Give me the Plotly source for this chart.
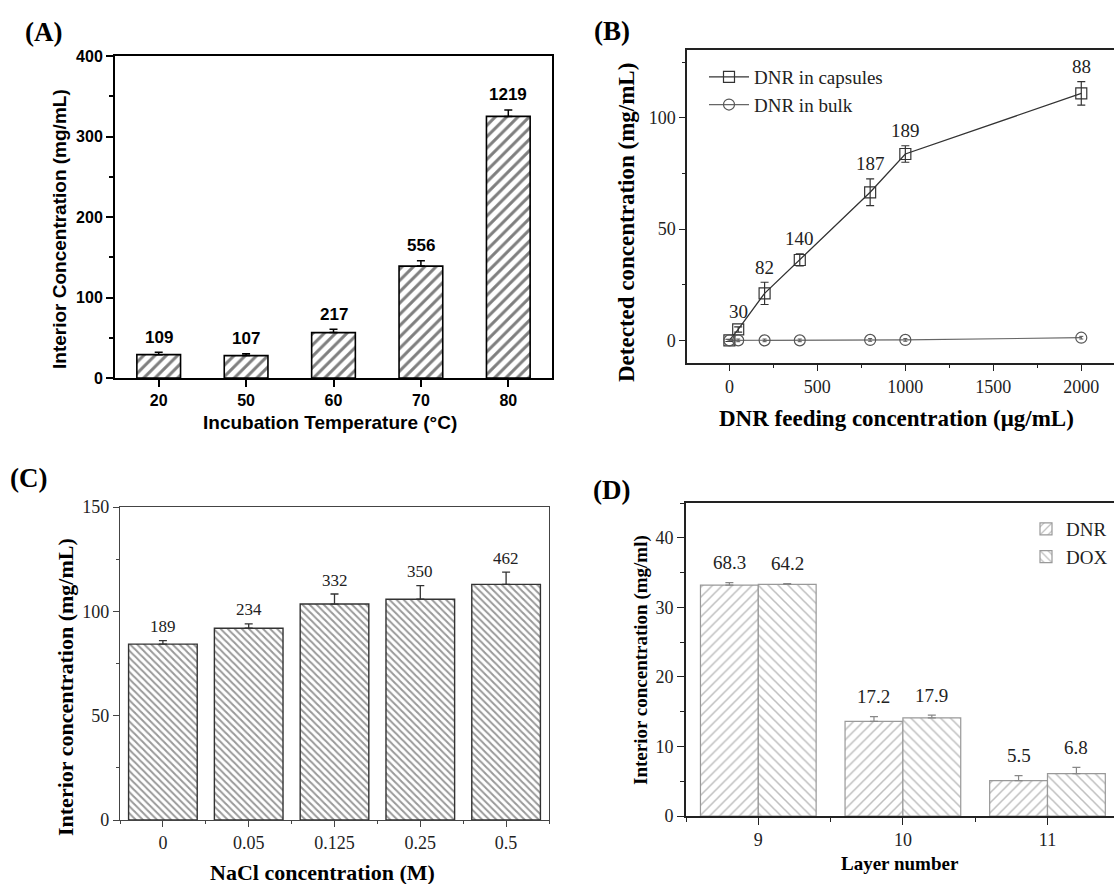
import plotly.graph_objects as go

# ---------------- data ----------------
# (A) incubation temperature
A_temps = ["20", "50", "60", "70", "80"]
A_vals = [29.0, 27.8, 56.4, 139.0, 325.0]
A_err = [3.0, 2.2, 4.2, 6.6, 8.0]
A_labels = ["109", "107", "217", "556", "1219"]

# (B) DNR feeding concentration
B_feed = [0, 50, 200, 400, 800, 1000, 2000]
B_caps = [0.0, 4.9, 21.1, 36.1, 66.5, 83.7, 110.9]
B_caps_err = [0.5, 1.2, 5.0, 2.7, 6.0, 3.7, 5.3]
B_bulk = [0.0, 0.0, 0.0, 0.0, 0.2, 0.2, 1.2]
B_bulk_err = [0.3, 0.6, 0.6, 0.6, 0.6, 0.6, 0.6]
B_labels = ["", "30", "82", "140", "187", "189", "88"]

# (C) NaCl concentration
C_nacl = ["0", "0.05", "0.125", "0.25", "0.5"]
C_vals = [84.3, 91.9, 103.5, 105.8, 112.9]
C_err = [1.7, 2.1, 4.8, 6.5, 5.9]
C_labels = ["189", "234", "332", "350", "462"]

# (D) layer number
D_layers = ["9", "10", "11"]
D_dnr = [33.2, 13.6, 5.1]
D_dnr_err = [0.35, 0.7, 0.7]
D_dox = [33.3, 14.1, 6.1]
D_dox_err = [0.1, 0.4, 0.9]
D_dnr_labels = ["68.3", "17.2", "5.5"]
D_dox_labels = ["64.2", "17.9", "6.8"]

# ---------------- layout helpers ----------------
W, H = 1114, 884
def fx(p):
    return p / W
def fy(p):
    return 1 - p / H

SANS = "Liberation Sans"
SERIF = "Liberation Serif"

fig = go.Figure()

# ---------- (A) ----------
A_idx = list(range(len(A_temps)))
fig.add_trace(go.Bar(
    x=A_idx, y=A_vals, width=0.5, xaxis="x", yaxis="y", showlegend=False,
    marker=dict(color="white", line=dict(color="black", width=1.6),
                pattern=dict(shape="/", fgcolor="black", size=8, solidity=0.38, fillmode="overlay")),
    error_y=dict(type="data", array=A_err, arrayminus=[0] * len(A_err), symmetric=False,
                 color="black", thickness=1.5, width=4),
))

# ---------- (B) ----------
fig.add_trace(go.Scatter(
    x=B_feed, y=B_caps, mode="lines+markers", name="DNR in capsules", xaxis="x2", yaxis="y2",
    line=dict(color="#333333", width=1.3),
    marker=dict(symbol="square-open", size=11, color="#333333", line=dict(width=1.2)),
    error_y=dict(type="data", array=B_caps_err, color="#333333", thickness=1.2, width=4),
    legend="legend",
))
fig.add_trace(go.Scatter(
    x=B_feed, y=B_bulk, mode="lines+markers", name="DNR in bulk", xaxis="x2", yaxis="y2",
    line=dict(color="#666666", width=1.2),
    marker=dict(symbol="circle-open", size=11, color="#555555", line=dict(width=1.2)),
    error_y=dict(type="data", array=B_bulk_err, color="#555555", thickness=1, width=2),
    legend="legend",
))

# ---------- (C) ----------
C_idx = list(range(len(C_nacl)))
fig.add_trace(go.Bar(
    x=C_idx, y=C_vals, width=0.8, xaxis="x3", yaxis="y3", showlegend=False,
    marker=dict(color="white", line=dict(color="#333333", width=1.4),
                pattern=dict(shape="\\", fgcolor="#333333", size=5, solidity=0.4, fillmode="overlay")),
    error_y=dict(type="data", array=C_err, arrayminus=[0] * len(C_err), symmetric=False,
                 color="#333333", thickness=1.3, width=4),
))

# ---------- (D) ----------
D_idx = list(range(len(D_layers)))
fig.add_trace(go.Bar(
    x=D_idx, y=D_dnr, name="DNR", xaxis="x4", yaxis="y4", legend="legend2",
    marker=dict(color="white", line=dict(color="#999999", width=1.2),
                pattern=dict(shape="/", fgcolor="#808080", size=7, solidity=0.22, fillmode="overlay")),
    error_y=dict(type="data", array=D_dnr_err, arrayminus=[0] * 3, symmetric=False,
                 color="#888888", thickness=1.2, width=4),
))
fig.add_trace(go.Bar(
    x=D_idx, y=D_dox, name="DOX", xaxis="x4", yaxis="y4", legend="legend2",
    marker=dict(color="white", line=dict(color="#999999", width=1.2),
                pattern=dict(shape="\\", fgcolor="#808080", size=7, solidity=0.22, fillmode="overlay")),
    error_y=dict(type="data", array=D_dox_err, arrayminus=[0] * 3, symmetric=False,
                 color="#888888", thickness=1.2, width=4),
))

# ---------------- annotations ----------------
ann = []
# value labels
for i, (v, e, t) in enumerate(zip(A_vals, A_err, A_labels)):
    ann.append(dict(x=A_idx[i], y=v + e, xref="x", yref="y", text=t, showarrow=False,
                    yanchor="middle", yshift=15, font=dict(family=SANS, size=17, color="black", weight="bold")))
for xv, v, e, t in zip(B_feed, B_caps, B_caps_err, B_labels):
    if t:
        ann.append(dict(x=xv, y=v + e, xref="x2", yref="y2", text=t, showarrow=False,
                        yanchor="middle", yshift=15, font=dict(family=SERIF, size=19, color="#222222")))
for i, (v, e, t) in enumerate(zip(C_vals, C_err, C_labels)):
    ann.append(dict(x=C_idx[i], y=v + e, xref="x3", yref="y3", text=t, showarrow=False,
                    yanchor="middle", yshift=14, font=dict(family=SERIF, size=17, color="#222222")))
for i in D_idx:
    ann.append(dict(x=i - 0.2, y=D_dnr[i] + D_dnr_err[i], xref="x4", yref="y4", text=D_dnr_labels[i],
                    showarrow=False, yanchor="middle", yshift=20,
                    font=dict(family=SERIF, size=19, color="#222222")))
    ann.append(dict(x=i + 0.2, y=D_dox[i] + D_dox_err[i], xref="x4", yref="y4", text=D_dox_labels[i],
                    showarrow=False, yanchor="middle", yshift=20,
                    font=dict(family=SERIF, size=19, color="#222222")))

def ptext(x, y, text, family, size, angle=0, color="black"):
    return dict(x=fx(x), y=fy(y), xref="paper", yref="paper", text=text, showarrow=False,
                xanchor="center", yanchor="middle", textangle=angle,
                font=dict(family=family, size=size, color=color, weight="bold"))

# panel letters
ann += [ptext(43, 32, "(A)", SERIF, 27), ptext(612, 31, "(B)", SERIF, 27),
        ptext(28, 478, "(C)", SERIF, 27), ptext(611, 490, "(D)", SERIF, 27)]
# axis titles
ann += [
    ptext(60, 229, "Interior Concentration (mg/mL)", SANS, 19, -90),
    ptext(330, 422, "Incubation Temperature (°C)", SANS, 19),
    ptext(626, 223, "Detected concentration (mg/mL)", SERIF, 23, -90),
    ptext(896, 418, "DNR feeding concentration (μg/mL)", SERIF, 23),
    ptext(65, 687, "Interior concentration (mg/mL)", SERIF, 22, -90),
    ptext(322, 872, "NaCl concentration (M)", SERIF, 22),
    ptext(641, 660, "Interior concentration (mg/ml)", SERIF, 19, -90),
    ptext(900, 863, "Layer number", SERIF, 19),
]

def axis(domain, rng, anchor, color, lw, tickfont, mirror, **kw):
    d = dict(domain=domain, range=rng, anchor=anchor, showgrid=False, zeroline=False,
             showline=True, linecolor=color, linewidth=lw, mirror=mirror,
             ticks="outside", tickcolor=color, tickwidth=lw * 0.8, ticklen=7,
             tickfont=tickfont, automargin=False, fixedrange=True)
    d.update(kw)
    return d

fontA = dict(family=SANS, size=16, color="black", weight="bold")
fontS = dict(family=SERIF, size=18, color="#222222")

fig.update_layout(
    width=W, height=H, margin=dict(l=0, r=0, t=0, b=0),
    paper_bgcolor="white", plot_bgcolor="white",
    barmode="group", bargap=0.2, bargroupgap=0,
    annotations=ann,
    xaxis=axis([fx(115), fx(552)], [-0.5, 4.5], "y", "black", 2, fontA, True,
               tickmode="array", tickvals=A_idx, ticktext=A_temps),
    yaxis=axis([fy(378), fy(56)], [0, 400], "x", "black", 2, fontA, True,
               tickmode="linear", tick0=0, dtick=100,
               minor=dict(tick0=0, dtick=50, ticks="outside", ticklen=4, tickcolor="black", tickwidth=1.5)),
    xaxis2=axis([fx(687), 1.0], [-241, 2186], "y2", "#222222", 1.5, fontS, True,
                tickmode="array", tickvals=[0, 500, 1000, 1500, 2000], ticklen=6,
                minor=dict(tick0=0, dtick=250, ticks="outside", ticklen=3, tickcolor="#222222", tickwidth=1)),
    yaxis2=axis([fy(363.3), fy(50)], [-10.3, 130.4], "x2", "#222222", 1.5, fontS, False,
                tickmode="array", tickvals=[0, 50, 100], ticklen=6,
                minor=dict(tick0=0, dtick=25, ticks="outside", ticklen=3, tickcolor="#222222", tickwidth=1)),
    xaxis3=axis([fx(120), fx(549)], [-0.5, 4.5], "y3", "#444444", 1.4, fontS, True,
                tickmode="array", tickvals=C_idx, ticktext=C_nacl, ticklen=6,
                minor=dict(tick0=0.5, dtick=1, ticks="outside", ticklen=3, tickcolor="#444444", tickwidth=1)),
    yaxis3=axis([fy(820), fy(507)], [0, 150], "x3", "#444444", 1.4, fontS, True,
                tickmode="linear", tick0=0, dtick=50, ticklen=6,
                minor=dict(tick0=0, dtick=25, ticks="outside", ticklen=3, tickcolor="#444444", tickwidth=1)),
    xaxis4=axis([fx(686), 1.0], [-0.5, 2.46], "y4", "#222222", 1.6, fontS, True,
                tickmode="array", tickvals=D_idx, ticktext=D_layers,
                minor=dict(tick0=0.5, dtick=1, ticks="outside", ticklen=4, tickcolor="#222222", tickwidth=1.2)),
    yaxis4=axis([fy(816), fy(503)], [0, 45], "x4", "#222222", 1.6, fontS, False,
                tickmode="linear", tick0=0, dtick=10,
                minor=dict(tick0=0, dtick=5, ticks="outside", ticklen=4, tickcolor="#222222", tickwidth=1.2)),
    legend=dict(x=fx(704), y=fy(58), xanchor="left", yanchor="top", bgcolor="rgba(0,0,0,0)",
                font=dict(family=SERIF, size=19, color="#222222"), tracegroupgap=0, itemwidth=40),
    legend2=dict(x=fx(1026), y=fy(510), xanchor="left", yanchor="top", bgcolor="rgba(0,0,0,0)",
                 font=dict(family=SERIF, size=19, color="#222222"), tracegroupgap=0),
)

fig.write_html("out.html")
